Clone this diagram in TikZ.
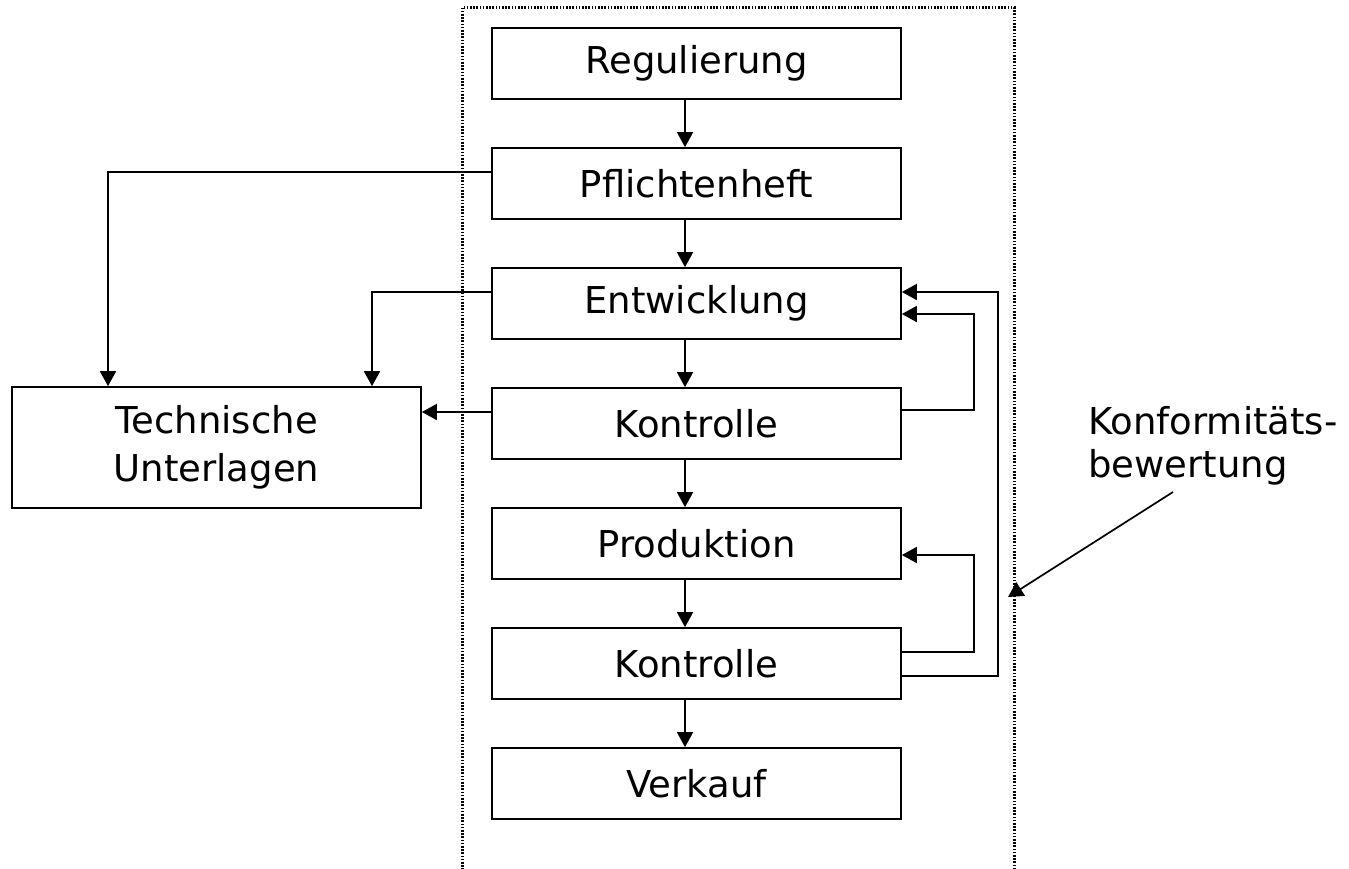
\documentclass[tikz,border=0pt]{standalone}
\usepackage{fontspec}
\setmainfont{DejaVu Sans}
\usetikzlibrary{arrows.meta}
\begin{document}
\begin{tikzpicture}[x=1pt,y=-1pt,
  box/.style={draw,line width=1.7pt,minimum width=409pt,minimum height=71pt,inner sep=0pt,
    font=\fontsize{37}{48}\selectfont},
  arr/.style={line width=1.7pt,-{Triangle[length=15pt,width=16pt]}},
  frame/.style={line width=2.2pt,dash pattern=on 1.6pt off 1.6pt}]
\useasboundingbox (0,0) rectangle (1349,868);
\draw[frame] (462.5,7.5) rectangle (1014.5,900);
\node[box] (reg)  at (696.5,63.5)  {Regulierung};
\node[box] (pfl)  at (696.5,183.5) {Pflichtenheft};
\node[box] (ent)  at (696.5,303.5) {Entwicklung};
\node[box] (k1)   at (696.5,423.5) {Kontrolle};
\node[box] (prod) at (696.5,543.5) {Produktion};
\node[box] (k2)   at (696.5,663.5) {Kontrolle};
\node[box] (verk) at (696.5,783.5) {Verkauf};
\node[box,minimum width=409pt,minimum height=121pt,align=center] (tech) at (216.5,447.5) {Technische\\Unterlagen};
\coordinate (ax) at (685,0);
\draw[arr] (reg.south -| ax) -- (pfl.north -| ax);
\draw[arr] (pfl.south -| ax) -- (ent.north -| ax);
\draw[arr] (ent.south -| ax) -- (k1.north -| ax);
\draw[arr] (k1.south -| ax) -- (prod.north -| ax);
\draw[arr] (prod.south -| ax) -- (k2.north -| ax);
\draw[arr] (k2.south -| ax) -- (verk.north -| ax);
% feedback loops
\draw[arr] ([yshift=13.5pt]k1.east) -- ++(72,0) |- ([yshift=-10.5pt]ent.east);
\draw[arr] ([yshift=11.5pt]k2.east) -- ++(72,0) |- ([yshift=-11.5pt]prod.east);
\draw[arr] ([yshift=-12.5pt]k2.east) -- ++(96,0) |- ([yshift=11.5pt]ent.east);
% to technical documents
\draw[arr] ([yshift=11.5pt]pfl.west) -| ([xshift=-108.5pt]tech.north);
\draw[arr] ([yshift=11.5pt]ent.west) -| ([xshift=155.5pt]tech.north);
\coordinate (k1w) at ([yshift=11.5pt]k1.west);
\draw[arr] (k1w) -- (k1w -| tech.east);
% annotation
\node[font=\fontsize{37}{43}\selectfont,align=left,anchor=base west,inner sep=0pt] (konf) at (1088,477) {Konformitäts-\\bewertung};
\coordinate (ls) at (1173,492);
\coordinate (lt) at (1008,597);
\draw[arr] (ls) -- (lt);
\end{tikzpicture}
\end{document}
